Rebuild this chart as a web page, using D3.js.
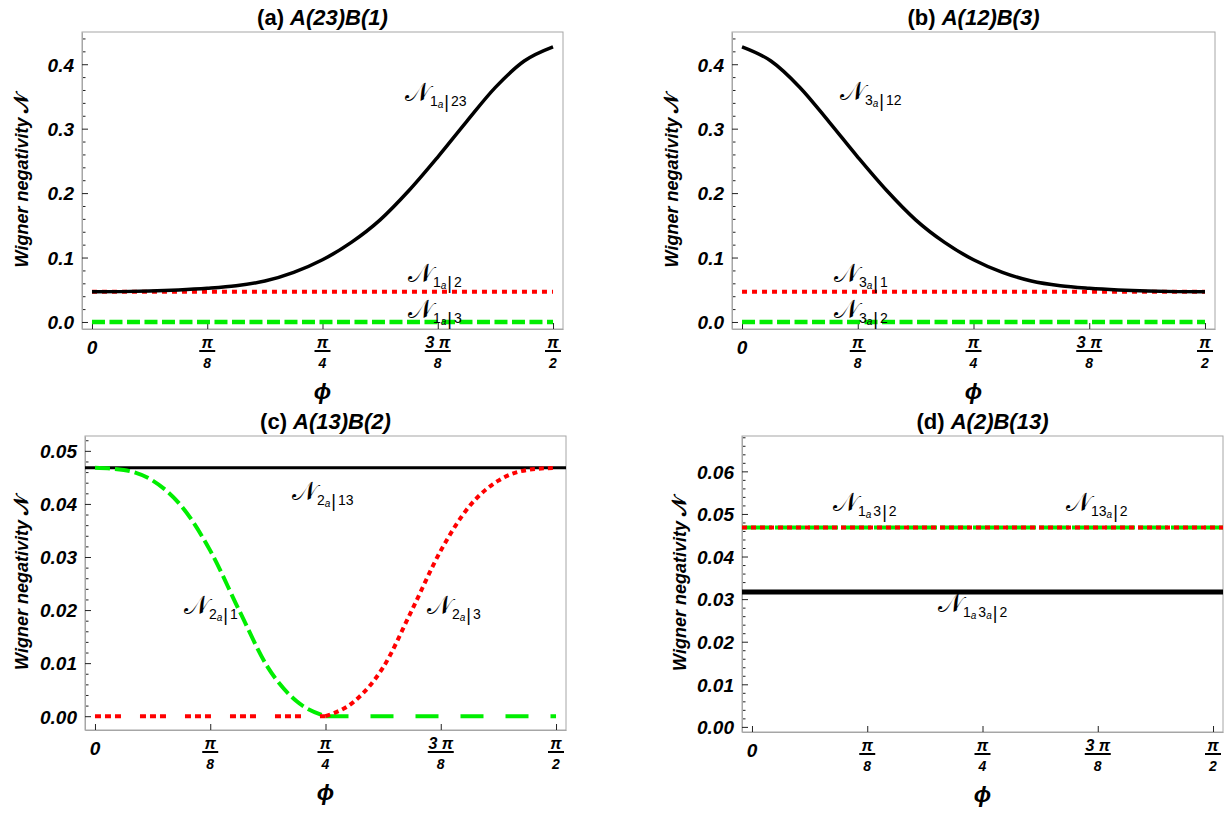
<!DOCTYPE html>
<html><head><meta charset="utf-8">
<script src="https://cdn.jsdelivr.net/npm/d3@7"></script>
<style>
body{margin:0;background:#fff}
text{font-family:"Liberation Sans",Arial,sans-serif}
</style>
</head><body>
<svg id="chart" width="1226" height="815"></svg>
<script>
// ---------------- DATA ----------------
const PHI_STEPS = [0,1,2,3,4,5,6,7,8,9,10,11,12,13,14,15,16];      // phi = k*pi/32
const PHI = PHI_STEPS.map(k => k * Math.PI / 32);

const xTickValues = [0, Math.PI/8, Math.PI/4, 3*Math.PI/8, Math.PI/2];
const xTickNum = ["0", "π", "π", "3 π", "π"];
const xTickDen = ["", "8", "4", "8", "2"];

// panel (a) A(23)B(1)
const N_1a_23 = [0.0468,0.0471,0.0480,0.0497,0.0523,0.0562,0.0635,0.0770,0.0965,0.1235,0.1585,0.2040,0.2560,0.3110,0.3640,0.4050,0.4270];
const N_1a_2 = 0.0468;
const N_1a_3 = 0.0;
// panel (b) A(12)B(3)
const N_3a_12 = [0.4270,0.4050,0.3640,0.3110,0.2560,0.2040,0.1585,0.1235,0.0965,0.0770,0.0635,0.0562,0.0523,0.0497,0.0480,0.0471,0.0468];
const N_3a_1 = 0.0468;
const N_3a_2 = 0.0;
// panel (c) A(13)B(2)
const N_2a_13 = 0.0468;
const N_2a_1 = [0.0468,0.0464,0.0444,0.0396,0.0312,0.0200,0.0092,0.0028,0,0,0,0,0,0,0,0,0];
const N_2a_3 = [0,0,0,0,0,0,0,0,0,0.0028,0.0092,0.0200,0.0312,0.0396,0.0444,0.0464,0.0468];
// panel (d) A(2)B(13)
const N_1a3_2 = 0.0468;
const N_13a_2 = 0.0468;
const N_1a3a_2 = 0.0317;

const yTicksAB = [0, 0.1, 0.2, 0.3, 0.4];
const yTickLabelsAB = ["0.0","0.1","0.2","0.3","0.4"];
const yTicksC = [0, 0.01, 0.02, 0.03, 0.04, 0.05];
const yTickLabelsC = ["0.00","0.01","0.02","0.03","0.04","0.05"];
const yTicksD = [0, 0.01, 0.02, 0.03, 0.04, 0.05, 0.06];
const yTickLabelsD = ["0.00","0.01","0.02","0.03","0.04","0.05","0.06"];

const titles = [["(a) ","A(23)B(1)"],["(b) ","A(12)B(3)"],["(c) ","A(13)B(2)"],["(d) ","A(2)B(13)"]];
const yAxisTitle = "Wigner negativity ";
const xAxisTitle = "ϕ";

// ---------------- LAYOUT ----------------
const svg = d3.select("#chart");
const RED = "#ff0000", GREEN = "#00ee00", BLACK = "#000";
const XPAD = 0.0340; // x-domain padding (radians)

const panels = [
  {L:82,  R:563,  T:32,  B:329, yTop:0.45,  yBot:-0.0109, yt:yTicksAB, ytl:yTickLabelsAB, minor:0.02, title:titles[0], ylx:22},
  {L:732, R:1215, T:32,  B:329, yTop:0.45,  yBot:-0.0109, yt:yTicksAB, ytl:yTickLabelsAB, minor:0.02, title:titles[1], ylx:672},
  {L:85,  R:566,  T:436, B:730, yTop:0.0528, yBot:-0.0026, yt:yTicksC, ytl:yTickLabelsC, minor:0.002, title:titles[2], ylx:22},
  {L:742, R:1223, T:436, B:732, yTop:0.0683, yBot:-0.0012, yt:yTicksD, ytl:yTickLabelsD, minor:0.002, title:titles[3], ylx:680}
];

function setup(p){
  p.x = d3.scaleLinear().domain([-XPAD, Math.PI/2 + XPAD]).range([p.L, p.R]);
  p.y = d3.scaleLinear().domain([p.yBot, p.yTop]).range([p.B, p.T]);
  const g = svg.append("g");
  p.g = g;
  g.append("rect").attr("x",p.L).attr("y",p.T).attr("width",p.R-p.L).attr("height",p.B-p.T)
    .attr("fill","none").attr("stroke","#a6a6a6").attr("stroke-width",1);
  const minorVals = d3.range(0, p.yTop, p.minor).filter(v => !p.yt.some(t => Math.abs(t-v) < 1e-9));
  g.append("g").attr("transform",`translate(${p.L},0)`)
    .call(d3.axisLeft(p.y).tickValues(minorVals).tickSizeInner(-3.5).tickSizeOuter(0).tickFormat(""))
    .call(s => { s.select(".domain").remove(); s.selectAll("line").attr("stroke","#222"); });
  const ya = g.append("g").attr("transform",`translate(${p.L},0)`)
    .call(d3.axisLeft(p.y).tickValues(p.yt).tickSizeInner(-6).tickSizeOuter(0).tickPadding(8)
      .tickFormat((d,i) => p.ytl[i]));
  ya.select(".domain").attr("stroke","#a6a6a6");
  ya.selectAll("line").attr("stroke","#222");
  ya.selectAll("text").attr("font-size",19).attr("font-weight","bold").attr("font-style","italic")
    .attr("fill","#000").attr("dy","0.36em").attr("font-family","Liberation Sans, Arial, sans-serif");
  const xa = g.append("g").attr("transform",`translate(0,${p.B})`)
    .call(d3.axisBottom(p.x).tickValues(xTickValues).tickSizeInner(-6).tickSizeOuter(0).tickFormat(""));
  xa.select(".domain").attr("stroke","#a6a6a6");
  xa.selectAll("line").attr("stroke","#222");
  xTickValues.forEach((v,i) => {
    const cx = p.x(v);
    if (xTickDen[i] === "") {
      g.append("text").attr("x",cx).attr("y",p.B+25).attr("text-anchor","middle")
        .attr("font-size",19).attr("font-weight","bold").attr("font-style","italic").text(xTickNum[i]);
    } else {
      g.append("text").attr("x",cx).attr("y",p.B+19).attr("text-anchor","middle")
        .attr("font-size",16).attr("font-weight","bold").attr("font-style","italic").text(xTickNum[i]);
      const w = xTickNum[i].length > 1 ? 26 : 16;
      g.append("line").attr("x1",cx-w/2).attr("x2",cx+w/2).attr("y1",p.B+22).attr("y2",p.B+22)
        .attr("stroke","#000").attr("stroke-width",2);
      g.append("text").attr("x",cx).attr("y",p.B+39).attr("text-anchor","middle")
        .attr("font-size",14).attr("font-weight","bold").attr("font-style","italic").text(xTickDen[i]);
    }
  });
  g.append("text").attr("x",(p.L+p.R)/2).attr("y",p.B+70).attr("text-anchor","middle")
    .attr("font-size",23).attr("font-weight","bold").attr("font-style","italic").text(xAxisTitle);
  const yt = g.append("text").attr("transform",`translate(${p.ylx},${(p.T+p.B)/2}) rotate(-90)`)
    .attr("text-anchor","middle").attr("dy","0.35em")
    .attr("font-size",18).attr("font-weight","bold").attr("font-style","italic");
  yt.append("tspan").text(yAxisTitle);
  yt.append("tspan").attr("font-family","DejaVu Sans").attr("font-style","normal").attr("font-size",20).text("𝒩");
  const tt = g.append("text").attr("x",(p.L+p.R)/2).attr("y",p.T-7).attr("text-anchor","middle")
    .attr("font-size",22).attr("font-weight","bold");
  tt.append("tspan").text(p.title[0]);
  tt.append("tspan").attr("font-style","italic").text(p.title[1]);
  const id = "clip" + Math.round(p.L) + "_" + Math.round(p.T);
  svg.append("clipPath").attr("id",id).append("rect")
    .attr("x",p.L).attr("y",p.T).attr("width",p.R-p.L).attr("height",p.B-p.T);
  p.plot = g.append("g").attr("clip-path",`url(#${id})`);
}

function curve(p, phis, vals, color, width, dash){
  const line = d3.line().x((d,i)=>p.x(phis[i])).y(d=>p.y(d)).curve(d3.curveMonotoneX);
  p.plot.append("path").datum(vals).attr("d",line).attr("fill","none")
    .attr("stroke",color).attr("stroke-width",width)
    .attr("stroke-dasharray",dash || null);
}
function constLine(p, v, color, width, dash, full){
  const phis = full ? p.x.domain() : [0, Math.PI/2];
  curve(p, phis, phis.map(()=>v), color, width, dash);
}

// label: 𝒩 with subscript tokens; each token [text, subscriptText?]; "|" as bar
function nLabel(p, x, y, tokens){
  const t = p.g.append("text").attr("x",x).attr("y",y).attr("fill","#000");
  t.append("tspan").attr("font-family","DejaVu Sans").attr("font-size",26).text("𝒩");
  let level = 0; // current dy offset relative to main baseline
  const move = (target) => { const d = target - level; level = target; return d; };
  tokens.forEach((tok, i) => {
    if (tok === "|") {
      t.append("tspan").attr("font-size",18).attr("dy",move(7)).attr("dx",1).text("|");
    } else {
      t.append("tspan").attr("font-size",14).attr("dy",move(5)).attr("dx", i === 0 ? 0 : 2).text(tok[0]);
      if (tok[1]) t.append("tspan").attr("font-size",10).attr("font-style","italic").attr("dy",move(7)).text(tok[1]);
    }
  });
}

panels.forEach(setup);
const [pa, pb, pc, pd] = panels;

// (a)
constLine(pa, N_1a_3, GREEN, 4.5, "13,4.5");
constLine(pa, N_1a_2, RED, 4, "5,5");
curve(pa, PHI, N_1a_23, BLACK, 3.5);
nLabel(pa, 405, 101, [["1","a"],"|",["23"]]);
nLabel(pa, 408, 282, [["1","a"],"|",["2"]]);
nLabel(pa, 408, 318, [["1","a"],"|",["3"]]);

// (b)
constLine(pb, N_3a_2, GREEN, 4.5, "13,4.5");
constLine(pb, N_3a_1, RED, 4, "5,5");
curve(pb, PHI, N_3a_12, BLACK, 3.5);
nLabel(pb, 840, 100, [["3","a"],"|",["12"]]);
nLabel(pb, 834, 282, [["3","a"],"|",["1"]]);
nLabel(pb, 834, 318, [["3","a"],"|",["2"]]);

// (c)
constLine(pc, N_2a_13, BLACK, 3, null, true);
const mid = 8;
curve(pc, PHI.slice(0, mid+1), N_2a_1.slice(0, mid+1), GREEN, 4, "15,5");
curve(pc, PHI.slice(mid), N_2a_1.slice(mid), GREEN, 4, "23,22");
curve(pc, PHI.slice(0, mid+1), N_2a_3.slice(0, mid+1), RED, 4, "6,4,6,4,6,19");
curve(pc, PHI.slice(mid), N_2a_3.slice(mid), RED, 4, "5,4");
nLabel(pc, 292, 500, [["2","a"],"|",["13"]]);
nLabel(pc, 184, 614, [["2","a"],"|",["1"]]);
nLabel(pc, 427, 614, [["2","a"],"|",["3"]]);

// (d)
constLine(pd, N_1a3a_2, BLACK, 5, null, true);
constLine(pd, N_13a_2, GREEN, 4, "30,3", true);
constLine(pd, N_1a3_2, RED, 4, "5,4", true);
nLabel(pd, 833, 511, [["1","a"],["3"],"|",["2"]]);
nLabel(pd, 1066, 511, [["13","a"],"|",["2"]]);
nLabel(pd, 938, 612, [["1","a"],["3","a"],"|",["2"]]);
</script>
</body></html>
